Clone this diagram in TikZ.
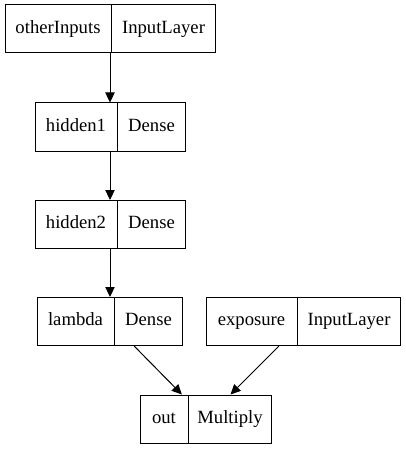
\documentclass[tikz,border=0pt]{standalone}
\usepackage{fontspec}
\setmainfont{Liberation Serif}
\usetikzlibrary{
    arrows.meta,
    shapes.multipart
}
\newcommand{\fld}[2]{\makebox[#1]{\strut #2}}
\tikzset{%
    >={Triangle[length=7.5pt,width=7pt]},
    % record node: layer name | layer type
    layer/.style = {
        rectangle split, rectangle split horizontal, rectangle split parts=2,
        draw=black, line width=0.75pt,
        inner xsep=0pt, inner ysep=9.6pt,
        font=\fontsize{14}{16.8}\selectfont, fill=white
    },
    edge/.style = {->, line width=0.75pt}
}
\begin{document}
\begin{tikzpicture}[x=0.75pt, y=-0.75pt]
    \useasboundingbox (0,0) rectangle (405,449);
    \node[layer] (otherInputs) at (110,29) {\fld{79.5pt}{otherInputs}\nodepart{two}\fld{77.25pt}{InputLayer}};
    \node[layer] (hidden1) at (110,127) {\fld{61.5pt}{hidden1}\nodepart{two}\fld{50.25pt}{Dense}};
    \node[layer] (hidden2) at (110,224.5) {\fld{61.5pt}{hidden2}\nodepart{two}\fld{50.25pt}{Dense}};
    \node[layer] (lambda) at (110,321.5) {\fld{57pt}{lambda}\nodepart{two}\fld{51pt}{Dense}};
    \node[layer] (exposure) at (303.5,321.5) {\fld{67.5pt}{exposure}\nodepart{two}\fld{77.25pt}{InputLayer}};
    \node[layer] (out) at (206,419) {\fld{35.25pt}{out}\nodepart{two}\fld{62.25pt}{Multiply}};
    \draw[edge] (otherInputs) -- (hidden1);
    \draw[edge] (hidden1) -- (hidden2);
    \draw[edge] (hidden2) -- (lambda);
    \draw[edge] (lambda) -- (out);
    \draw[edge] (exposure) -- (out);
\end{tikzpicture}
\end{document}
